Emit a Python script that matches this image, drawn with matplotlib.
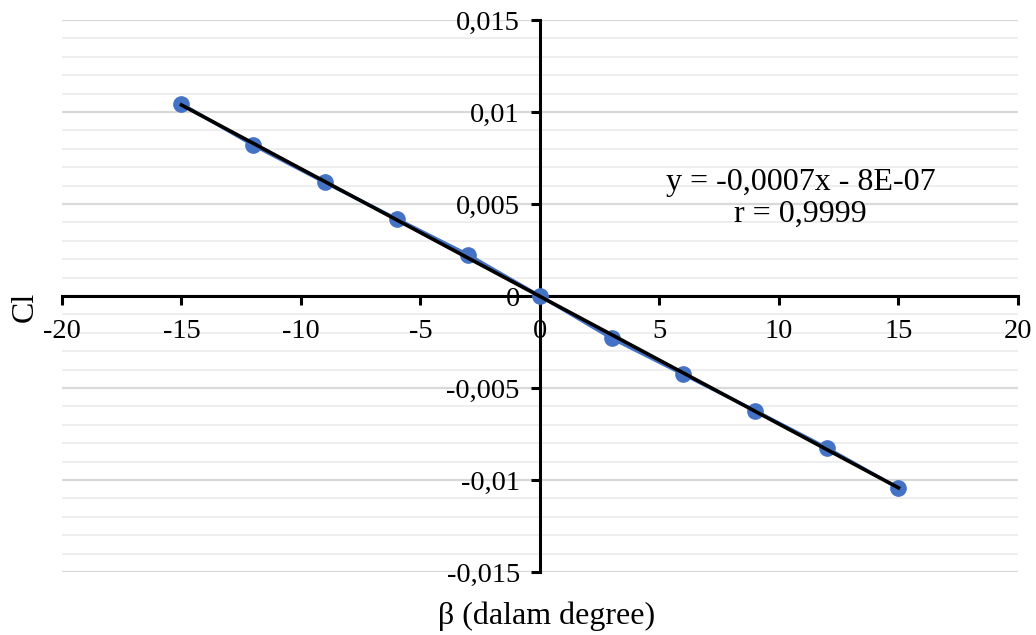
import numpy as np
import matplotlib
matplotlib.use("Agg")
import matplotlib.pyplot as plt
from matplotlib.ticker import MultipleLocator, FuncFormatter

beta = [-15, -12, -9, -6, -3, 0, 3, 6, 9, 12, 15]
cl = [0.01044, 0.0082, 0.00617, 0.0042, 0.00224, 0.0, -0.0023, -0.00426, -0.00623, -0.00825, -0.01044]
x_ticks = [-20, -15, -10, -5, 0, 5, 10, 15, 20]
y_ticks = [-0.015, -0.01, -0.005, 0, 0.005, 0.01, 0.015]
eq_text = "y = -0,0007x - 8E-07\nr = 0,9999"

plt.rcParams['font.family'] = ['Liberation Serif', 'DejaVu Serif']

fig = plt.figure(figsize=(10.36, 6.35), dpi=100)
ax = fig.add_axes([0.0598, 0.0992, 0.9228, 0.8693])
ax.set_xlim(-20, 20)
ax.set_ylim(-0.015, 0.015)

ax.yaxis.set_minor_locator(MultipleLocator(0.001))
ax.set_yticks(y_ticks)
ax.set_xticks(x_ticks)
ax.grid(True, axis='y', which='minor', color='#EEEEEE', lw=1.4, zorder=0)
ax.grid(True, axis='y', which='major', color='#D9D9D9', lw=1.6, zorder=0)
ax.tick_params(axis='y', which='minor', length=0)

def fmt(v, pos):
    if abs(v) < 1e-12:
        return "0"
    s = ("%g" % round(v, 4)).replace('.', ',')
    return s
ax.yaxis.set_major_formatter(FuncFormatter(fmt))
ax.xaxis.set_major_formatter(FuncFormatter(lambda v, p: "%d" % v))

for s in ['top', 'right']:
    ax.spines[s].set_visible(False)
ax.spines['left'].set_position(('data', 0))
ax.spines['bottom'].set_position(('data', 0))
for s in ['left', 'bottom']:
    ax.spines[s].set_linewidth(2.2)
    ax.spines[s].set_zorder(2)
ax.tick_params(axis='both', which='major', direction='out', length=6.5, width=2.2,
               labelsize=20.5, colors='black')
ax.tick_params(axis='x', pad=10)
ax.tick_params(axis='y', pad=8)
ax.xaxis.set_zorder(2)

ax.plot(beta, cl, color='#4472C4', lw=2.4, marker='o', markersize=11, zorder=3)
coef = np.polyfit(beta, cl, 1)
xs = np.array([min(beta), max(beta)])
ax.plot(xs, np.polyval(coef, xs), color='black', lw=2.6, zorder=4)

ax.text(10.9, 0.0053, eq_text, ha='center', va='center', fontsize=23, linespacing=1.15)

fig.text(0.528, 0.03, "β (dalam degree)", ha='center', va='center', fontsize=23)
fig.text(0.024, 0.516, "Cl", ha='center', va='center', fontsize=23, rotation=90)

fig.savefig("out.png", dpi=100)
